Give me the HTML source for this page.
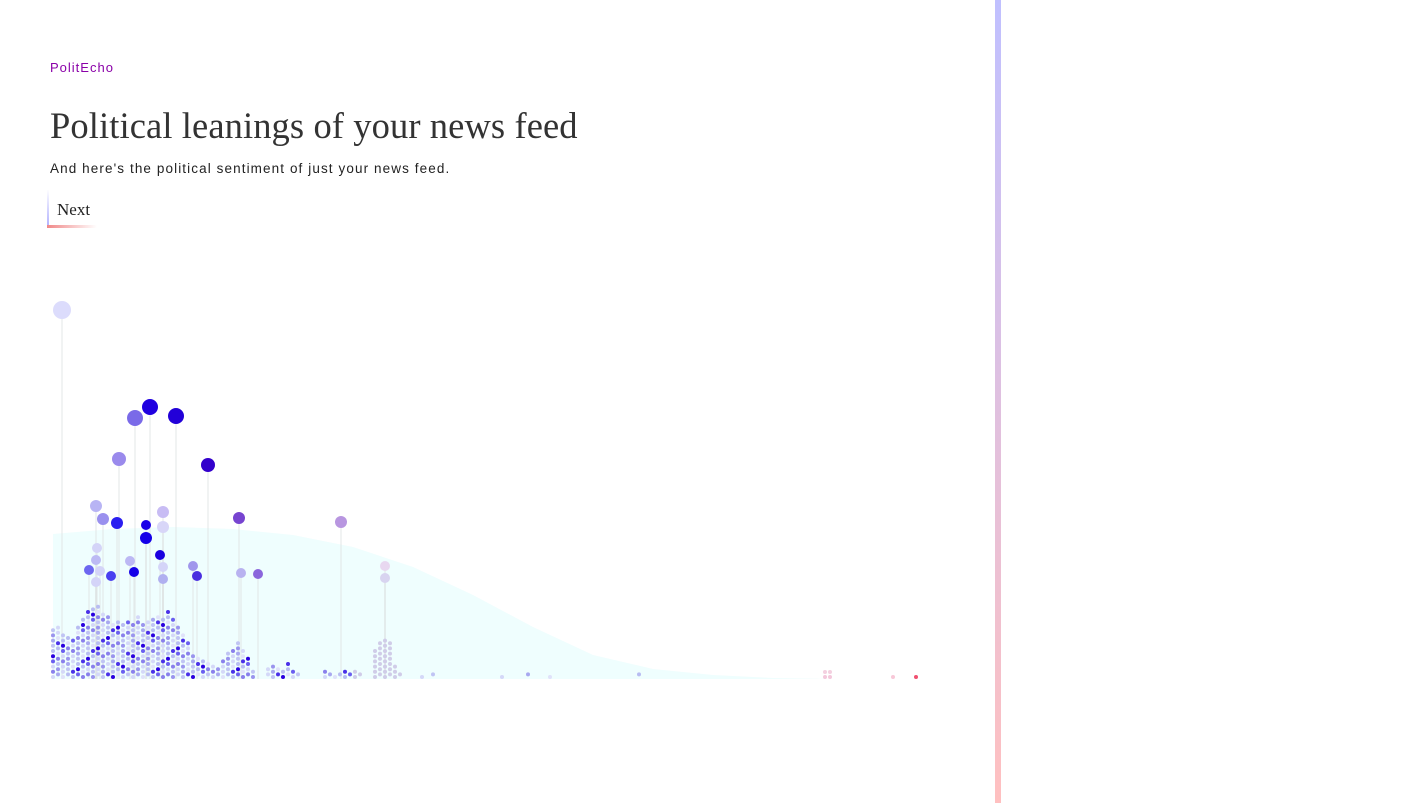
<!DOCTYPE html>
<html><head><meta charset="utf-8">
<style>
body{margin:0;width:1408px;height:803px;background:#fff;overflow:hidden;position:relative;font-family:"Liberation Sans",sans-serif}
#brand{position:absolute;left:50px;top:60px;font-size:13px;color:#8a00a8;letter-spacing:1px}
#title{position:absolute;left:50px;top:104px;font-family:"Liberation Serif",serif;font-size:36.5px;color:#333;margin:0;font-weight:normal;letter-spacing:0.1px}
#sub{position:absolute;left:50px;top:161px;font-size:13.5px;color:#222;letter-spacing:1.1px}
#next{position:absolute;left:47px;top:190px;width:48px;height:36px;font-family:"Liberation Serif",serif;font-size:17px;color:#222;padding-left:8px;line-height:40px;box-sizing:border-box;border-left:2px solid;border-image:linear-gradient(#fff,#b0b0ff) 1}
#next:after{content:"";position:absolute;left:-2px;bottom:-2px;width:50px;height:3px;background:linear-gradient(90deg,#f08888,#fff)}
#bar{position:absolute;left:995px;top:0;width:6px;height:803px;background:linear-gradient(#c0c0ff,#ffc0c0)}
svg{position:absolute;left:0;top:0}
</style></head><body>
<div id="brand">PolitEcho</div>
<h1 id="title">Political leanings of your news feed</h1>
<div id="sub">And here's the political sentiment of just your news feed.</div>
<div id="next">Next</div>
<div id="bar"></div>
<svg id="chart" width="990" height="803"></svg>
<script>
// Data arrays
const densityX=[0,60,120,180,240,300,360,420,480,540,600,660,720,780];
const densityY=[145,150,152,150,144,132,112,84,52,24,10,4,1,0];
const pileX=[0,5,10,15,20,25,30,35,40,45,50,55,60,65,70,75,80,85,90,95,100,105,110,115,120,125,130,135,140,145,150,155,160,165,170,175,180,185,190,195,200,215,220,225,230,235,240,245,272,277,282,287,292,297,302,307,322,327,332,337,342,347,369,380,449,475,497,586];
const pileCount=[10,10,9,8,8,10,12,13,14,14,13,12,11,11,11,11,11,12,11,11,12,12,12,13,12,10,9,7,5,4,4,3,3,2,4,5,6,7,6,4,2,2,3,2,2,3,2,1,2,1,1,1,2,1,2,1,6,7,8,7,3,1,1,1,1,1,1,1];
const lolX=[9,97,82,123,66,155,43,50,64,93,110,110,93,186,288,44,43,36,47,58,43,77,81,107,110,110,140,144,188,205,332,332];
const lolY=[369,272,261,263,220,214,173,160,156,154,167,152,141,161,157,131,119,109,108,103,97,118,107,124,112,100,113,103,106,105,113,101];
const lolR=[9,8,8,8,7,7,6,6,6,5,6,6,6,6,6,5,5,5,5,5,5,5,5,5,5,5,5,5,5,5,5,5];
const lolC=["#dcdcfc","#2000e0","#7a6ae8","#2200d8","#9a8aec","#3300cc","#b8b4f4","#9a90ee","#2a1ef0","#1a00e8","#c8bcf4","#d8d6f8","#1400e8","#7744d0","#b896e0","#d4d4f8","#bcbaf4","#6c66f0","#d4d4f8","#4a3ef0","#d4d4f8","#bcb8f4","#1400e8","#1a00e0","#d4d4f8","#b0b0f0","#a096ec","#4a2ee0","#b8b2f0","#8a66dc","#e8d8f0","#d8d4f0"];
const extraX=[772,777,772,777,840,863];
const extraY=[0,0,5,5,0,0];
const extraC=["#f4c8dc","#f4c8dc","#f4d0e0","#f4d0e0","#f8c8d8","#f05070"];
const palette=["#d4d8f8","#c0c4f4","#a8a8f0","#8a80ec","#6a5ef0","#4a30e8","#2a00e0","#e0e2fa","#b8bcf2","#9a94ee"];
const palIdx=[0,7,1,3,8,2,0,5,9,4,7,1,6,0,3,8];

const svg=document.getElementById('chart');
const NS='http://www.w3.org/2000/svg';
const x0=53,base=679;
const sx=v=>x0+v, sy=v=>base-v;
function mk(t,a){const e=document.createElementNS(NS,t);for(const k in a)e.setAttribute(k,a[k]);svg.appendChild(e);return e;}
let d='M'+sx(densityX[0])+','+base;
for(let i=0;i<densityX.length;i++)d+=' L'+sx(densityX[i])+','+sy(densityY[i]);
d+=' L'+sx(densityX[densityX.length-1])+','+base+' Z';
const area=mk('path',{d:d,fill:'#effefe'});


for(let i=0;i<lolX.length;i++){
  const s=mk('line',{x1:sx(lolX[i]),x2:sx(lolX[i]),y1:sy(lolY[i]),y2:base,stroke:'#dde2e2','stroke-width':1.5,opacity:0.55});
  
  
}
for(let i=0;i<pileX.length;i++){
  const off=(i%2)?2.6:0;
  for(let j=0;j<pileCount[i];j++){
    const c=palette[palIdx[(i*5+j*3)%palIdx.length]];
    const dot=mk('circle',{cx:sx(pileX[i]),cy:base-2-off-j*5.2,r:2,fill:(pileX[i]>300&&pileX[i]<350)?'#d0cce8':c});
    
    
  }
}
for(let i=0;i<extraX.length;i++){
  const dot=mk('circle',{cx:sx(extraX[i]),cy:base-2-extraY[i],r:2,fill:extraC[i]});
  
  
}
for(let i=0;i<lolX.length;i++){
  const h=mk('circle',{cx:sx(lolX[i]),cy:sy(lolY[i]),r:lolR[i],fill:lolC[i]});
  
  
}
</script>
</body></html>
